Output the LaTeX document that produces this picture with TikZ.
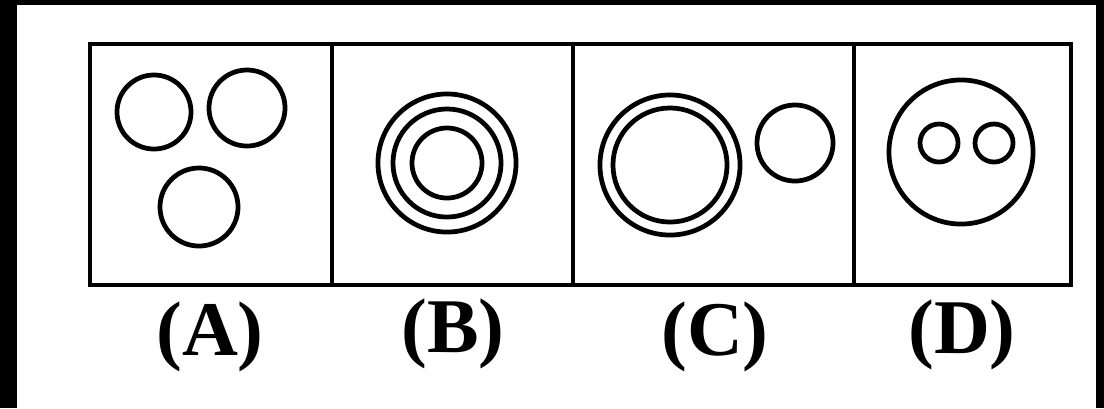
\documentclass[tikz,border=0pt]{standalone}
\usepackage{fontspec}
\setmainfont{Liberation Serif}
\usetikzlibrary{positioning}
\tikzstyle{panel}=[rectangle,draw=black,line width=1.3pt,minimum height=2.41cm,inner sep=0pt]
\tikzstyle{ring}=[circle,draw=black,line width=1.35pt,inner sep=0pt]
\tikzstyle{optlabel}=[font=\fontsize{22}{24}\selectfont\bfseries,inner sep=0pt]

\begin{document}
\begin{tikzpicture}[x=0.01cm,y=-0.01cm]
    % frame
    \fill[black] (0,0) rectangle (1104,408);
    \fill[white] (17,5) rectangle (1096,408);
    \useasboundingbox (0,0) rectangle (1104,408);

    \node[panel,minimum width=2.42cm] (pA) at (211,164.5) {};
    \node[panel,minimum width=2.41cm] (pB) at (452.5,164.5) {};
    \node[panel,minimum width=2.81cm] (pC) at (713.5,164.5) {};
    \node[panel,minimum width=2.17cm] (pD) at (962.5,164.5) {};

    % (A)
    \node[ring,minimum size=0.74cm] (a1) at (154,112) {};
    \node[ring,minimum size=0.76cm] (a2) at (247,108) {};
    \node[ring,minimum size=0.78cm] (a3) at (199,207) {};

    % (B)
    \foreach \r/\n in {1.38/1,1.08/2,0.70/3} {
        \node[ring,minimum size=\r cm] (b\n) at (447,163) {};
    };

    % (C)
    \node[ring,minimum size=1.40cm] (c1) at (670,165) {};
    \node[ring,minimum size=1.14cm] (c2) at (670,165) {};
    \node[ring,minimum size=0.76cm] (c3) at (795,143) {};

    % (D)
    \node[ring,minimum size=1.44cm] (d1) at (961,152) {};
    \node[ring,minimum size=0.38cm] (d2) at (939,143) {};
    \node[ring,minimum size=0.38cm] (d3) at (994,143) {};

    \node[optlabel] (lA) at (210,337) {(A)};
    \node[optlabel] (lB) at (453,334) {(B)};
    \node[optlabel] (lC) at (715,337) {(C)};
    \node[optlabel] (lD) at (962,335) {(D)};
\end{tikzpicture}
\end{document}
